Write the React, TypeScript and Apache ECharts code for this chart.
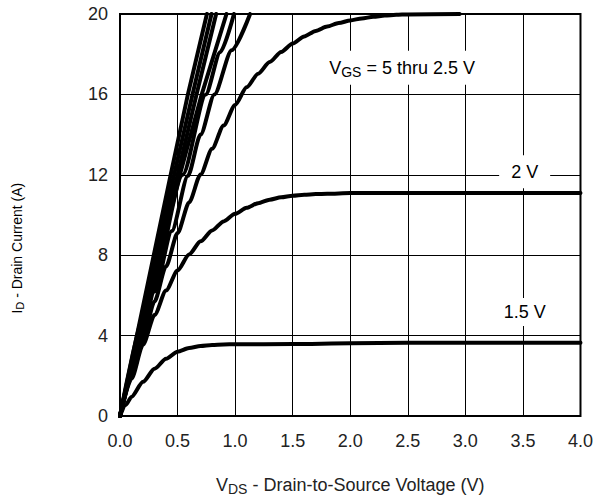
import React, { useEffect, useRef } from "react";
import * as echarts from "echarts";

// Axis ranges / ticks
const X_MIN = 0;
const X_MAX = 4;
const X_STEP = 0.5;
const Y_MIN = 0;
const Y_MAX = 20;
const Y_STEP = 4;

// Output characteristics: [VDS (V), ID (A)]
const vgs5: [number, number][] = [[0, 0], [0.44, 12], [0.59, 16], [0.755, 20]];
const vgs45: [number, number][] = [[0, 0], [0.47, 12], [0.63, 16], [0.795, 20]];
const vgs4: [number, number][] = [[0, 0], [0.5, 12], [0.665, 16], [0.835, 20]];
const vgs35: [number, number][] = [[0, 0], [0.52, 12], [0.71, 16], [0.925, 20]];
const vgs3: [number, number][] = [[0, 0], [0.27, 6.1], [0.545, 12], [0.745, 16], [0.87, 18.1], [0.99, 20]];
const vgs275: [number, number][] = [
  [0, 0], [0.15, 3.1], [0.3, 6.2], [0.45, 9.2], [0.59, 11.95], [0.7, 14.0],
  [0.82, 16.0], [0.97, 18.2], [1.13, 20],
];
const vgs25: [number, number][] = [
  [0, 0], [0.1, 1.95], [0.2, 3.85], [0.3, 5.7], [0.4, 7.45], [0.5, 9.1], [0.6, 10.62],
  [0.7, 12.02], [0.8, 13.3], [0.9, 14.45], [1.0, 15.47], [1.1, 16.35], [1.2, 17.03],
  [1.3, 17.61], [1.4, 18.11], [1.5, 18.53], [1.6, 18.88], [1.7, 19.16], [1.8, 19.38],
  [1.9, 19.55], [2.0, 19.68], [2.1, 19.78], [2.2, 19.86], [2.3, 19.92], [2.4, 19.96],
  [2.5, 19.98], [2.95, 20],
];
const vgs2: [number, number][] = [
  [0, 0], [0.1, 1.85], [0.2, 3.55], [0.3, 5.02], [0.4, 6.24], [0.5, 7.24], [0.6, 8.04],
  [0.7, 8.69], [0.8, 9.23], [0.9, 9.68], [1.0, 10.06], [1.1, 10.36], [1.2, 10.59],
  [1.3, 10.76], [1.4, 10.88], [1.5, 10.96], [1.6, 11.01], [1.7, 11.04], [1.8, 11.06],
  [2.0, 11.09], [4.0, 11.1],
];
const vgs15: [number, number][] = [
  [0, 0], [0.05, 0.55], [0.1, 0.95], [0.2, 1.7], [0.3, 2.35], [0.4, 2.85], [0.5, 3.2],
  [0.6, 3.38], [0.7, 3.48], [0.8, 3.53], [0.9, 3.56], [1.0, 3.57], [1.5, 3.58],
  [2.0, 3.62], [2.5, 3.65], [4.0, 3.65],
];

const curves = [
  { name: "VGS = 5 V", data: vgs5, smooth: false },
  { name: "VGS = 4.5 V", data: vgs45, smooth: false },
  { name: "VGS = 4 V", data: vgs4, smooth: false },
  { name: "VGS = 3.5 V", data: vgs35, smooth: false },
  { name: "VGS = 3 V", data: vgs3, smooth: true },
  { name: "VGS = 2.75 V", data: vgs275, smooth: true },
  { name: "VGS = 2.5 V", data: vgs25, smooth: true },
  { name: "VGS = 2 V", data: vgs2, smooth: true },
  { name: "VGS = 1.5 V", data: vgs15, smooth: true },
];

// Annotation labels anchored in data coordinates
const annotations = [
  { text: "{v|V}{s|GS}{v| = 5 thru 2.5 V}", at: [2.45, 17.33], pad: [6, 7, 6, 7] },
  { text: "{v|2 V}", at: [3.515, 12.15], pad: [6, 12, 5, 12] },
  { text: "{v|1.5 V}", at: [3.515, 5.17], pad: [3, 6, 3, 6] },
];

const FONT = "'Liberation Sans', Arial, Helvetica, sans-serif";
const TXT = "#222";

const rich = {
  v: { fontSize: 18, fontFamily: FONT, color: TXT, lineHeight: 22 },
  s: { fontSize: 14, fontFamily: FONT, color: TXT, lineHeight: 12, verticalAlign: "bottom" as const },
};
const richY = {
  v: { fontSize: 14, fontFamily: FONT, color: TXT, lineHeight: 17 },
  s: { fontSize: 11, fontFamily: FONT, color: TXT, lineHeight: 9, verticalAlign: "bottom" as const },
};

export default function App() {
  const ref = useRef<HTMLDivElement>(null);
  useEffect(() => {
    if (!ref.current) return;
    const chart = echarts.init(ref.current, null, { renderer: "svg" });
    chart.setOption({
      animation: false,
      backgroundColor: "#fff",
      textStyle: { fontFamily: FONT },
      grid: {
        left: 120, right: 12, top: 14, bottom: 83,
        show: true, borderColor: "#000", borderWidth: 2, backgroundColor: "transparent",
      },
      xAxis: {
        type: "value", min: X_MIN, max: X_MAX, interval: X_STEP,
        axisLine: { show: false }, axisTick: { show: false },
        splitLine: { show: true, lineStyle: { color: "#000", width: 1 } },
        axisLabel: { color: TXT, fontSize: 18, margin: 16, formatter: (v: number) => v.toFixed(1) },
        name: "{v|V}{s|DS}{v| - Drain-to-Source Voltage (V)}",
        nameLocation: "middle", nameGap: 58,
        nameTextStyle: { rich },
      },
      yAxis: {
        type: "value", min: Y_MIN, max: Y_MAX, interval: Y_STEP,
        axisLine: { show: false }, axisTick: { show: false },
        splitLine: { show: true, lineStyle: { color: "#000", width: 1 } },
        axisLabel: { color: TXT, fontSize: 18, margin: 12 },
      },
      series: curves.map((c) => ({
        name: c.name,
        type: "line",
        data: c.data,
        showSymbol: false,
        symbol: "none",
        smooth: c.smooth ? 0.25 : false,
        smoothMonotone: "x",
        clip: true,
        lineStyle: { color: "#000", width: 4, cap: "round", join: "round" },
        z: 3,
      })),
    });
    const graphic: any[] = annotations.map((a) => {
      const p = chart.convertToPixel({ gridIndex: 0 }, a.at) as number[];
      return {
        type: "text",
        x: p[0],
        y: p[1],
        z: 10,
        style: {
          text: a.text,
          rich,
          align: "center",
          verticalAlign: "middle",
          backgroundColor: "#fff",
          padding: a.pad,
        },
      };
    });
    // Y axis title
    const yTitleAt = chart.convertToPixel({ gridIndex: 0 }, [0, 8.35]) as number[];
    graphic.push({
      type: "text",
      x: 17,
      y: yTitleAt[1],
      rotation: Math.PI / 2,
      style: {
        text: "{v|I}{s|D}{v| - Drain Current (A)}",
        rich: richY,
        align: "center",
        verticalAlign: "middle",
      },
    });
    chart.setOption({ graphic });
    return () => chart.dispose();
  }, []);
  return (
    <div
      ref={ref}
      style={{ position: "absolute", left: 0, top: 0, width: 596, height: 501 }}
    />
  );
}
